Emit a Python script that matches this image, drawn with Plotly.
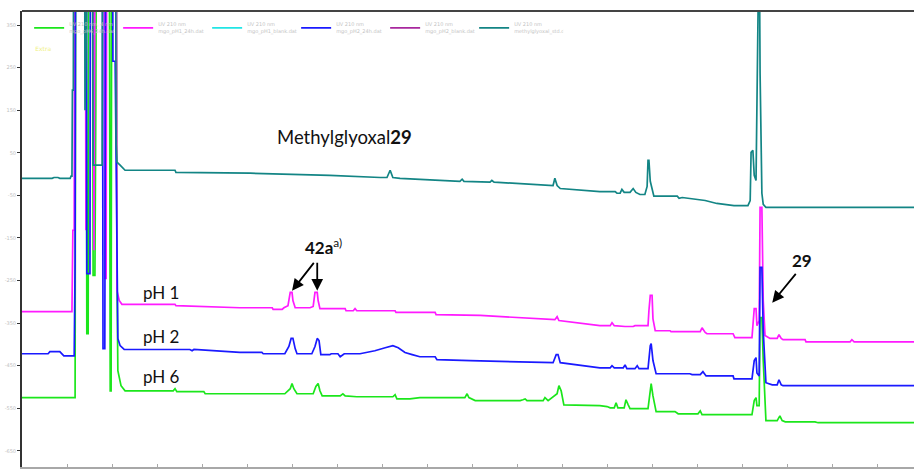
import plotly.graph_objects as go

# Retention time (min) and absorbance (mAU); 1200 marks detector saturation (off-scale)
OFF = 1200

t_ph6 = [0, 1.18, 1.20, 1.42, 1.44, 1.47, 1.49, 1.56, 1.58, 1.62, 1.64, 1.67, 1.93, 1.96, 1.98, 2.00,
         2.09, 2.11, 2.13, 2.20, 2.29, 3.36, 3.40, 3.44, 4.04, 4.07, 5.84, 5.96, 6.00, 6.04, 6.11, 6.47,
         6.53, 6.58, 6.62, 6.67, 7.07, 7.13, 7.18, 7.44, 8.24, 8.29, 8.33, 8.62, 8.84, 9.84, 9.89, 9.93,
         10.07, 11.07, 11.13, 11.18, 11.22, 11.58, 11.62, 11.69, 11.89, 11.93, 11.98, 12.04, 12.84, 13.00,
         13.07, 13.16, 13.20, 13.24, 13.38, 13.42, 13.47, 13.51, 13.91, 13.96, 13.98, 14.02, 14.09, 14.51,
         14.58, 15.02, 15.07, 15.11, 16.22, 16.27, 16.31, 16.33, 16.38, 16.40, 16.44, 16.47, 16.53, 16.73,
         16.78, 16.84, 16.89, 16.96, 17.62, 17.69, 19.82]
a_ph6 = [-525, -525, OFF, OFF, -375, -375, OFF, OFF, -238, -238, 162, OFF, OFF, -509, -509, OFF,
         OFF, -234, -462, -497, -509, -509, -504, -511, -511, -516, -516, -504, -492, -504, -516, -516,
         -499, -492, -509, -521, -521, -516, -521, -523, -523, -518, -528, -528, -525, -525, -516, -525,
         -532, -532, -530, -528, -532, -532, -525, -532, -516, -497, -509, -542, -544, -546,
         -549, -549, -537, -549, -549, -530, -542, -551, -551, -509, -492, -521, -558, -558,
         -563, -563, -556, -565, -565, -532, -525, -544, -544, -337, -337, -438, -579, -579,
         -579, -568, -579, -582, -582, -584, -584]

t_ph1 = [0, 1.11, 1.13, 1.16, 1.18, 1.40, 1.42, 1.44, 1.58, 1.60, 1.64, 1.82, 1.84, 1.87, 1.89, 2.09,
         2.11, 2.16, 2.22, 2.29, 3.40, 3.42, 4.84, 5.56, 5.58, 5.78, 5.82, 5.91, 5.96, 6.00, 6.02, 6.07,
         6.40, 6.47, 6.51, 6.56, 6.58, 6.62, 7.18, 7.20, 7.36, 7.40, 7.44, 8.29, 8.31, 9.18, 9.20, 10.18,
         11.07, 11.84, 11.89, 11.93, 12.84, 13.07, 13.11, 13.16, 13.40, 13.58, 13.62, 13.91, 13.93, 13.96,
         14.00, 14.02, 14.07, 14.40, 14.42, 15.07, 15.11, 15.18, 15.22, 15.80, 15.84, 16.22, 16.27, 16.31,
         16.33, 16.38, 16.40, 16.44, 16.47, 16.51, 16.62, 16.78, 16.82, 16.87, 16.91, 17.40, 17.42, 18.40,
         18.44, 18.49, 19.82]
a_ph1 = [-323, -323, -132, -132, OFF, OFF, -132, OFF, OFF, -179, OFF, OFF, -245, -245, OFF, OFF,
         -274, -297, -306, -306, -306, -309, -314, -314, -318, -318, -314, -309, -278, -278, -297, -314,
         -314, -311, -278, -278, -297, -316, -316, -321, -321, -316, -321, -321, -325, -325, -330, -332,
         -337, -342, -335, -344, -356, -356, -349, -356, -358, -358, -356, -356, -321, -285,
         -285, -340, -368, -368, -370, -370, -361, -372, -375, -375, -384, -384, -316, -316,
         -356, -344, -78, -78, -297, -379, -386, -386, -377, -386, -389, -389, -394, -394,
         -389, -394, -394]

t_ph2 = [0, 0.58, 0.62, 0.84, 0.93, 1.16, 1.18, 1.20, 1.42, 1.44, 1.51, 1.53, 1.78, 1.80, 1.84, 1.87,
         2.00, 2.02, 2.07, 2.09, 2.11, 2.13, 2.18, 2.27, 3.73, 3.78, 3.82, 4.84, 5.33, 5.36, 5.84, 5.93,
         5.98, 6.02, 6.07, 6.11, 6.44, 6.51, 6.56, 6.60, 6.64, 6.84, 6.87, 7.02, 7.07, 7.16, 7.51, 7.84,
         8.07, 8.24, 8.36, 8.51, 8.67, 8.84, 9.18, 9.22, 9.96, 11.07, 11.80, 11.87, 11.91, 11.96, 12.84,
         13.07, 13.11, 13.16, 13.36, 13.40, 13.44, 13.62, 13.67, 13.71, 13.91, 13.96, 13.98, 14.02, 14.09,
         14.84, 14.89, 15.07, 15.13, 15.20, 15.80, 15.82, 16.22, 16.27, 16.31, 16.33, 16.38, 16.40, 16.44,
         16.47, 16.53, 16.67, 16.78, 16.82, 16.87, 16.91, 19.82]
a_ph2 = [-422, -422, -417, -417, -427, -427, -203, OFF, OFF, -234, -234, OFF, OFF, -410, -410, OFF,
         OFF, 265, 265, 79, -234, -386, -403, -412, -412, -415, -412, -419, -419, -422, -422, -405,
         -386, -386, -410, -422, -422, -405, -386, -391, -424, -424, -422, -422, -429, -422, -422, -415,
         -408, -403, -408, -419, -424, -429, -429, -436, -438, -440, -443, -424, -424, -443, -455,
         -455, -450, -455, -455, -448, -457, -457, -450, -457, -457, -403, -398, -438, -469,
         -469, -471, -471, -464, -474, -474, -481, -481, -438, -431, -467, -474, -219, -219,
         -368, -490, -495, -495, -483, -495, -497, -497]

t_mgo = [0, 0.67, 0.71, 0.80, 0.84, 1.07, 1.09, 1.11, 1.12, 1.14, 1.16, 1.38, 1.40, 1.42, 1.56, 1.58,
         1.78, 1.80, 2.07, 2.09, 2.11, 2.18, 2.29, 3.40, 3.42, 5.07, 6.84, 7.96, 8.11, 8.18, 8.24, 8.40,
         9.29, 9.73, 9.78, 9.82, 10.40, 10.44, 10.49, 11.51, 11.80, 11.84, 11.89, 11.96, 12.84, 13.18,
         13.22, 13.29, 13.33, 13.38, 13.51, 13.58, 13.64, 13.73, 13.84, 13.89, 13.91, 13.93, 13.96, 14.04,
         14.56, 14.60, 14.67, 15.18, 15.44, 15.82, 16.13, 16.18, 16.20, 16.24, 16.27, 16.31, 16.33, 16.36,
         16.38, 16.40, 16.44, 16.47, 16.53, 19.82]
a_mgo = [-10, -10, -8, -8, -10, -10, -5, -5, 197, 197, OFF, OFF, 150, OFF, OFF, 21,
         21, OFF, OFF, 75, 28, 21, 9, 9, 4, 2, -3, -8, -8, 9, -8, -10,
         -15, -17, -12, -17, -19, -15, -19, -24, -27, -10, -27, -34, -41, -41,
         -45, -45, -36, -43, -43, -34, -43, -48, -48, -29, 32, 32, -17, -52,
         -52, -57, -55, -62, -69, -74, -74, -62, 51, 56, -3, -15, 338, 600,
         600, 237, -45, -71, -78, -78]

# runs that were loaded but hold no recorded signal in this window
t_empty = [0]
a_empty = [None]

series_names = [
    "UV 210 nm, 4 nm<br>mgo_pH6_24h.dat",
    "UV 210 nm<br>mgo_pH1_24h.dat",
    "UV 210 nm<br>mgo_pH1_blank.dat",
    "UV 210 nm<br>mgo_pH2_24h.dat",
    "UV 210 nm<br>mgo_pH2_blank.dat",
    "UV 210 nm<br>methylglyoxal_std.dat",
]
series_colors = ["#1be61b", "#ff1aff", "#22e5e5", "#1a1aff", "#a8289e", "#138585"]

y_ticks = [350, 250, 150, 50, -50, -150, -250, -350, -450, -550, -650]

X_RANGE = [0, 19.82]
Y_RANGE = [-688, 383]

fig = go.Figure()
series = [(t_ph6, a_ph6), (t_ph1, a_ph1), (t_empty, a_empty), (t_ph2, a_ph2),
          (t_empty, a_empty), (t_mgo, a_mgo)]
for (t, a), name, col in zip(series, series_names, series_colors):
    fig.add_trace(go.Scatter(x=t, y=a, mode="lines", name=name,
                             line=dict(color=col, width=1.7), legend="legend"))
fig.add_trace(go.Scatter(x=t_empty, y=a_empty, mode="lines", name="Extra",
                         line=dict(color="rgba(255,255,255,0)", width=1),
                         legend="legend2"))

lbl = dict(family="Lato", size=17, color="#111")
fig.add_annotation(x=5.62, y=86, text="Methylglyoxal<b>29</b>", showarrow=False,
                   xanchor="left", yanchor="middle", font=dict(lbl, size=18.5))
for txt, yv in [("pH 1", -278), ("pH 2", -382), ("pH 6", -476)]:
    fig.add_annotation(x=2.64, y=yv, text=txt, showarrow=False,
                       xanchor="left", yanchor="middle", font=lbl)
fig.add_annotation(x=6.24, y=-170, text="<b>42a</b><sup>a)</sup>", showarrow=False,
                   xanchor="left", yanchor="middle", font=lbl)
fig.add_annotation(x=17.33, y=-203, text="<b>29</b>", showarrow=False,
                   xanchor="center", yanchor="middle", font=lbl)

arrow = dict(text="", showarrow=True, axref="x", ayref="y", arrowhead=2,
             arrowsize=1.3, arrowwidth=1.8, arrowcolor="#000")
fig.add_annotation(x=6.00, y=-274, ax=6.51, ay=-205, **arrow)
fig.add_annotation(x=6.56, y=-274, ax=6.56, ay=-205, **arrow)
fig.add_annotation(x=16.67, y=-302, ax=17.22, ay=-231, **arrow)

# dark frame line along the top of the plot area
fig.add_shape(type="line", xref="paper", yref="paper", x0=0, x1=1, y0=1, y1=1,
              line=dict(color="#444", width=2))

fig.update_layout(
    width=914, height=469,
    margin=dict(l=22, r=0, t=11, b=2, autoexpand=False),
    paper_bgcolor="white", plot_bgcolor="white",
    showlegend=True,
    legend=dict(orientation="h", x=0.008, y=0.995, xanchor="left", yanchor="top",
                entrywidth=44, itemwidth=30, bgcolor="rgba(0,0,0,0)",
                font=dict(family="DejaVu Sans", size=5, color="#c4c4c4"), tracegroupgap=0),
    legend2=dict(orientation="h", x=-0.03, y=0.95, xanchor="left", yanchor="top",
                 bgcolor="rgba(0,0,0,0)",
                 font=dict(family="DejaVu Sans", size=6, color="#f0f080")),
    xaxis=dict(range=X_RANGE, dtick=1, tick0=0, showgrid=False, zeroline=False,
               showline=True, linecolor="#a8a8a8", linewidth=2,
               ticks="inside", ticklen=3, tickcolor="#a8a8a8", showticklabels=False),
    yaxis=dict(range=Y_RANGE, tickvals=y_ticks, ticktext=[str(v) for v in y_ticks],
               showgrid=False, zeroline=False, showline=True, linecolor="#333", linewidth=2,
               ticks="outside", ticklen=3, tickcolor="#333",
               tickfont=dict(family="DejaVu Sans", size=5, color="#c0c0c0")),
)

fig.write_html("out.html")
